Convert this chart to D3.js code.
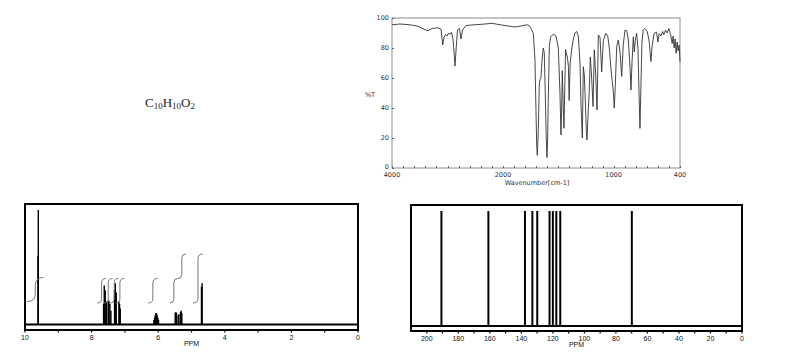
<!DOCTYPE html>
<html><head><meta charset="utf-8">
<script src="https://cdn.jsdelivr.net/npm/d3@7"></script>
<style>body{margin:0;background:#fff}svg{display:block}</style>
</head><body>
<svg id="c" width="788" height="362"></svg>
<script>
// ---------- data ----------
const formulaParts = [["C",""],["10","sub"],["H",""],["10","sub"],["O",""],["2","sub"]];

const irWavenumber = [4000,3856,3676,3532,3423,3351,3279,3171,3117,3086,3063,3036,3009,2982,2955,2928,2901,2883,2865,2847,2820,2784,2757,2730,2667,2505,2324,2198,2054,
1982,1892,1846,1786,1765,1747,1726,1711,1702,1695,1690,1681,1672,1666,1657,1645,1636,1627,1618,1609,1602,1596,1591,1581,1569,1545,1521,1500,1485,1476,1470,1464,1455,1449,1440,1434,1427,1418,1409,1402,1393,1380,1366,1349,1334,1319,1304,1295,1283,1274,1265,1256,1247,1241,1229,1220,1211,1200,1186,1175,1162,1150,1138,1123,1108,1093,1071,1053,1039,1024,1003,994,985,972,958,943,927,913,897,882,868,852,843,834,822,813,804,792,780,771,762,753,744,732,717,696,678,663,651,633,612,600,588,573,557,546,531,516,501,485,471,462,453,444,435,426,417,408,400];
const irTransmittance = [95.5,96,95.5,94.5,92.5,91.5,93,93.5,92.5,82,87,89,88,90,89,90.5,86,78,68,78,92,93,86,92,95,95.5,96,96.5,95.5,
95,94,94.5,95.5,95,93,89.8,72,38.7,15,8.5,25,55,59,60,74,80,77,50,20,7,20,45,81,87.5,89.3,88,80,50,22,38,65,40,26.5,60,79,76,74,68,45,70,78.7,85.3,90.2,91,88,70,43,20,67.5,62,45,25,18.7,38.7,52,74,62,41,78.7,62,38.7,88.7,87,64,85,89.8,88,80,66,51,40,55,81,85.3,78,61,82,92,91.5,86,68,52,70,87.5,77.5,85,89.8,80,52,26.4,55,84,92,93,91,84,71,82,89.8,90.5,84,89.5,88,91,89,92,90,93,89,83,88,80,86,76.4,84,78,82,71];
const irXLabels = [4000,2000,1000,400];
const irYLabels = [0,20,40,60,80,100];

const hPeakPpm =       [9.61,9.60,7.64,7.62,7.59,7.55,7.50,7.48,7.45,7.42,7.31,7.29,7.26,7.18,7.16,7.14,6.13,6.11,6.09,6.07,6.05,6.03,6.01,5.99,5.49,5.47,5.45,5.40,5.38,5.33,5.31,5.29,4.70,4.68];
const hPeakIntensity = [60,100,18,34,30,20,20,21,18,12,30,36,28,20,18,14,4,6,8,10,10,8,6,4,10,11,10,8,9,11,12,10,33,36];
// integral steps: ppm start, ppm end, level start, level end
const hIntegralFrom = [9.93,7.83,7.63,7.45,7.28,6.30,5.65,5.41,4.95];
const hIntegralTo   = [9.45,7.57,7.37,7.19,7.02,6.02,5.41,5.17,4.66];
const hIntegralLo   = [0.06,0,0,0,0,0,0,1,0];
const hIntegralHi   = [1.04,1,1,1,1,1,1,2,2];
const hTickValues = [10,9,8,7,6,5,4,3,2,1,0];
const hLabelValues = [10,8,6,4,2,0];

const cPeakPpm = [190.7,160.9,137.7,133.0,129.9,122.1,120.0,117.8,115.3,69.9];
const cPeakIntensity = [100,100,100,100,100,100,100,100,100,100];
const cTickValues = d3.range(200,-1,-10);
const cLabelValues = [200,180,160,140,120,100,80,60,40,20,0];

// ---------- drawing ----------
const svg = d3.select("#c");

// formula
const ft = svg.append("text").attr("x",145).attr("y",107)
  .attr("font-family","'Liberation Serif', serif").attr("font-size",13).attr("fill","#222");
formulaParts.forEach(([t,k])=>{
  const ts = ft.append("tspan").text(t);
  if(k==="sub") ts.attr("font-size",9).attr("dy",2); else ts.attr("dy",-2);
});
ft.select("tspan").attr("dy",0);

// ---- IR ----
const irX = d3.scaleLinear().domain([4000,2000,400]).range([392,503,680]);
const irY = d3.scaleLinear().domain([0,100]).range([168,18]);
const ir = svg.append("g");
const irFont = "'Liberation Sans Narrow', 'DejaVu Sans', sans-serif";
ir.append("rect").attr("x",392).attr("y",18).attr("width",288).attr("height",150)
  .attr("fill","none").attr("stroke","#8a8a8a").attr("stroke-width",1);
const irMinor = d3.range(4000,2000,-200).concat(d3.range(2000,399,-100));
ir.selectAll(".xt").data(irMinor).join("line")
  .attr("x1",d=>Math.round(irX(d))+0.5).attr("x2",d=>Math.round(irX(d))+0.5)
  .attr("y1",168).attr("y2",166).attr("stroke","#666");
ir.selectAll(".yt").data(irYLabels).join("line")
  .attr("x1",392).attr("x2",394).attr("y1",d=>Math.round(irY(d))+0.5).attr("y2",d=>Math.round(irY(d))+0.5).attr("stroke","#666");
ir.selectAll(".xl").data(irXLabels).join("text")
  .attr("x",d=>irX(d)).attr("y",177).attr("text-anchor","middle")
  .attr("font-family",irFont).attr("font-size",6.5).attr("fill","#333").text(d=>d);
ir.selectAll(".yl").data(irYLabels).join("text")
  .attr("x",389).attr("y",d=>irY(d)+(d===0?1:2)).attr("text-anchor","end")
  .attr("font-family",irFont).attr("font-size",6.5).attr("fill","#333").text(d=>d);
ir.append("text").attr("x",537).attr("y",184.5).attr("text-anchor","middle")
  .attr("font-family",irFont).attr("font-size",6.5).attr("fill","#333").text("Wavenumber[cm-1]");
ir.append("text").attr("x",370).attr("y",97).attr("text-anchor","middle")
  .attr("font-family",irFont).attr("font-size",6.5).attr("fill","#333").text("%T");
const irLine = d3.line().x(d=>irX(d[0])).y(d=>irY(d[1]));
ir.append("path").datum(irWavenumber.map((w,i)=>[w,irTransmittance[i]]))
  .attr("d",irLine).attr("fill","none").attr("stroke","#333").attr("stroke-width",0.9);

// ---- NMR helper ----
const nmrFont = "'Liberation Sans', Arial, sans-serif";
function nmrFrame(g, x0, x1, top, base, bottom, xs, ticks, labels){
  g.append("rect").attr("x",x0).attr("y",top).attr("width",x1-x0).attr("height",bottom-top)
    .attr("fill","none").attr("stroke","#000").attr("stroke-width",2);
  g.append("line").attr("x1",x0).attr("x2",x1).attr("y1",base).attr("y2",base)
    .attr("stroke","#000").attr("stroke-width",2);
  g.selectAll(".t").data(ticks).join("line")
    .attr("x1",d=>xs(d)).attr("x2",d=>xs(d)).attr("y1",bottom).attr("y2",bottom+2.5)
    .attr("stroke","#000").attr("stroke-width",1.2);
  g.selectAll(".l").data(labels).join("text")
    .attr("x",d=>xs(d)).attr("y",bottom+9.5).attr("text-anchor","middle")
    .attr("font-family",nmrFont).attr("font-size",7).attr("fill","#111").text(d=>d);
  g.append("text").attr("x",(x0+x1)/2).attr("y",bottom+15.5).attr("text-anchor","middle")
    .attr("font-family",nmrFont).attr("font-size",7).attr("fill","#111").text("PPM");
}

// ---- 1H NMR ----
const hX = d3.scaleLinear().domain([10,0]).range([25,358]);
const hY = d3.scaleLinear().domain([0,100]).range([324.5,210]);
const hI = d3.scaleLinear().domain([0,1]).range([303,278.5]);
const h = svg.append("g");
nmrFrame(h, 25, 358, 204, 324.5, 330, hX, hTickValues, hLabelValues);
h.selectAll(".pk").data(hPeakPpm.map((p,i)=>[p,hPeakIntensity[i]])).join("line")
  .attr("x1",d=>hX(d[0])).attr("x2",d=>hX(d[0])).attr("y1",hY(0)).attr("y2",d=>hY(d[1]))
  .attr("stroke","#000").attr("stroke-width",1.4);
// integral "∫" shape: horizontal tail, vertical rise, horizontal tail
function integralPath(d){
  const x0 = hX(d.from), x1 = hX(d.to), y0 = hI(d.lo), y1 = hI(d.hi);
  const xm = (x0+x1)/2, r = Math.min((x1-x0)/2, Math.abs(y0-y1)/3);
  const p = d3.path();
  p.moveTo(x0,y0);
  p.lineTo(xm-r,y0);
  p.quadraticCurveTo(xm,y0,xm,y0-r);
  p.lineTo(xm,y1+r);
  p.quadraticCurveTo(xm,y1,xm+r,y1);
  p.lineTo(x1,y1);
  return p.toString();
}
h.selectAll(".int").data(hIntegralFrom.map((f,i)=>({from:f,to:hIntegralTo[i],lo:hIntegralLo[i],hi:hIntegralHi[i]})))
  .join("path").attr("d",integralPath).attr("fill","none").attr("stroke","#666").attr("stroke-width",0.9);

// ---- 13C NMR ----
const cX = d3.scaleLinear().domain([210,0]).range([411,742]);
const cY = d3.scaleLinear().domain([0,100]).range([326,211]);
const c = svg.append("g");
nmrFrame(c, 411, 742, 205, 326, 331, cX, cTickValues, cLabelValues);
c.selectAll(".pk").data(cPeakPpm.map((p,i)=>[p,cPeakIntensity[i]])).join("line")
  .attr("x1",d=>cX(d[0])).attr("x2",d=>cX(d[0])).attr("y1",cY(0)).attr("y2",d=>cY(d[1]))
  .attr("stroke","#000").attr("stroke-width",2);
</script>
</body></html>
